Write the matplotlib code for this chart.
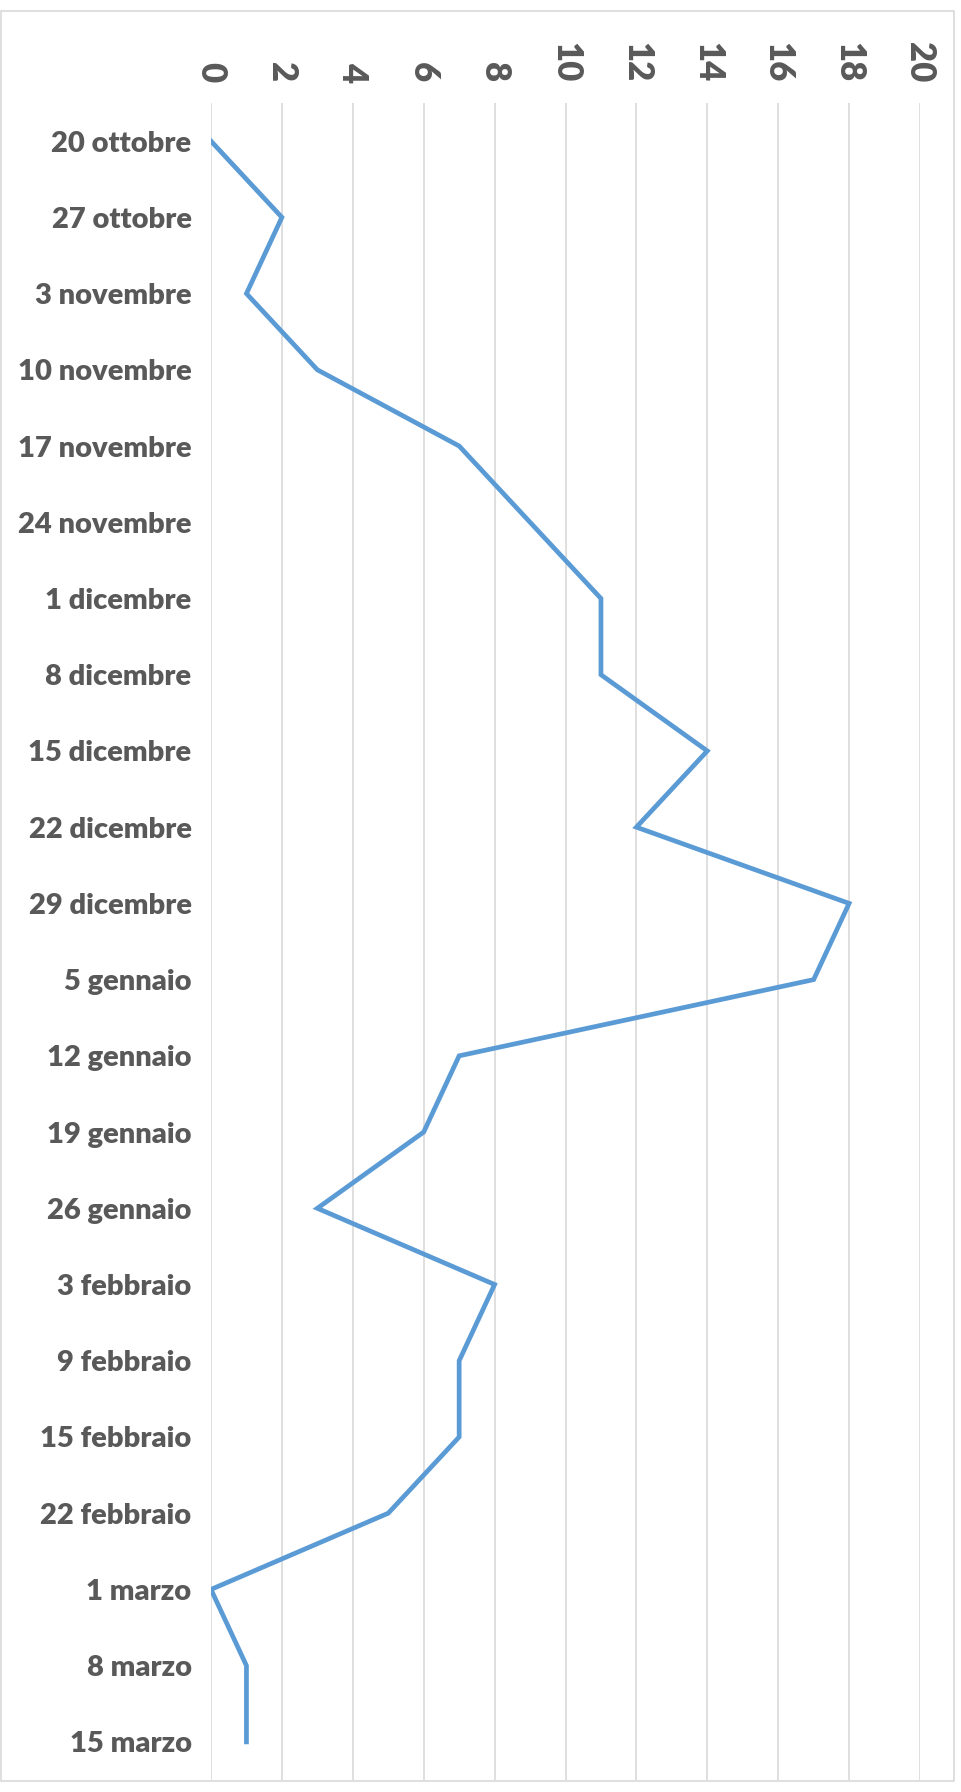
import matplotlib.pyplot as plt
from matplotlib.patches import Rectangle

# Weekly values
weeks = ["20 ottobre", "27 ottobre", "3 novembre", "10 novembre", "17 novembre",
         "24 novembre", "1 dicembre", "8 dicembre", "15 dicembre", "22 dicembre",
         "29 dicembre", "5 gennaio", "12 gennaio", "19 gennaio", "26 gennaio",
         "3 febbraio", "9 febbraio", "15 febbraio", "22 febbraio", "1 marzo",
         "8 marzo", "15 marzo"]
values = [0, 2, 1, 3, 7, 9, 11, 11, 14, 12, 18, 17, 7, 6, 3, 8, 7, 7, 5, 0, 1, 1]
xticks = list(range(0, 21, 2))

plt.rcParams['font.family'] = ['Liberation Sans Narrow', 'Lato', 'DejaVu Sans']
text_color = '#595959'
grid_color = '#D9D9D9'

fig = plt.figure(figsize=(9.62, 17.92), dpi=100)
ax = fig.add_axes([211 / 962, 12 / 1792, (920 - 211) / 962, (1780 - 103) / 1792])

pos = list(range(len(weeks)))
ax.plot(values, pos, color='#5B9BD5', linewidth=3.4, solid_joinstyle='miter', zorder=3)

ax.set_xlim(0, 20)
ax.set_ylim(len(weeks) - 0.5, -0.5)
ax.set_xticks(xticks)
ax.set_yticks(pos)
ax.set_yticklabels(weeks)
ax.xaxis.tick_top()
ax.grid(axis='x', color=grid_color, linewidth=1.2)
ax.set_axisbelow(True)
for s in ax.spines.values():
    s.set_visible(False)
ax.tick_params(axis='both', length=0, colors=text_color)
ax.tick_params(axis='y', pad=14)
ax.tick_params(axis='x', pad=15)
for lab in ax.get_yticklabels():
    lab.set_fontsize(21)
    lab.set_fontweight('heavy')
for lab in ax.get_xticklabels():
    lab.set_fontsize(25)
    lab.set_fontweight('heavy')
    lab.set_rotation(270)

# outer chart border
fig.patches.append(Rectangle((0.5 / 962, 1 - 1781 / 1792), 954 / 962, (1781 - 11) / 1792,
                             transform=fig.transFigure, fill=False,
                             edgecolor=grid_color, linewidth=1.2))

fig.savefig('out.png', dpi=100, facecolor='white')
